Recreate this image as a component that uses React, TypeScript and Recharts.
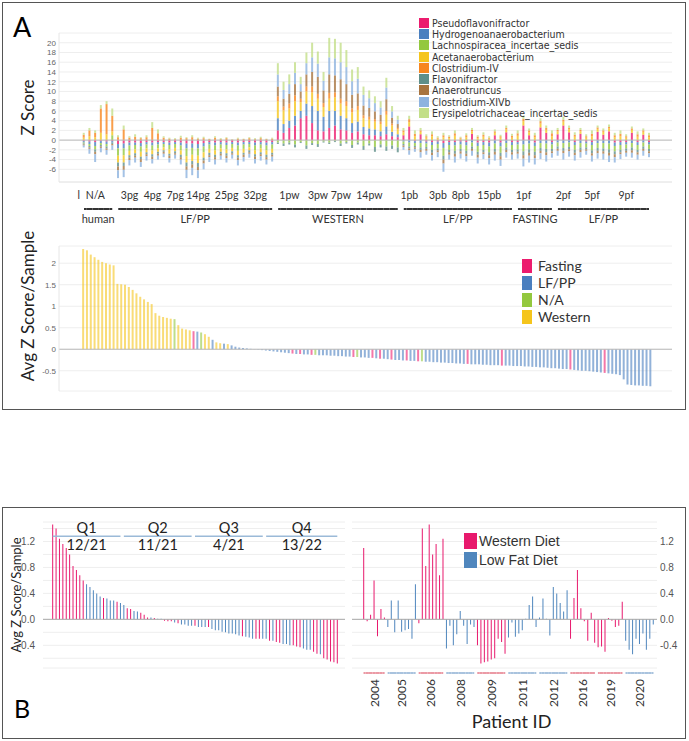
import React from "react";
import { BarChart, Bar, XAxis, YAxis, CartesianGrid, ReferenceLine, Cell } from "recharts";

const LATO = "Lato, 'Open Sans', sans-serif";
const ARIAL = "'Liberation Sans', Arial, sans-serif";
const NARROW = "'Liberation Sans Narrow', 'DejaVu Sans Condensed', 'Liberation Sans', sans-serif";

// ---------- Panel A, top: z score of each genus per sample ----------
const genera = [
  "Pseudoflavonifractor",
  "Hydrogenoanaerobacterium",
  "Lachnospiracea_incertae_sedis",
  "Acetanaerobacterium",
  "Clostridium-IV",
  "Flavonifractor",
  "Anaerotruncus",
  "Clostridium-XIVb",
  "Erysipelotrichaceae_incertae_sedis",
];
const generaColors = ["#ec1c6e", "#4a7fbf", "#93c83e", "#f5c51c", "#f7861e", "#5f8f8a", "#a8743f", "#8db3df", "#c3df88"];

// sample order: human(6) | pg(28) | western(22) | pb(20) | fasting(7) | pf(17)
const pseudoflavonifractor = [
  -0.2, -0.3, -0.4, -0.2, -0.3, -0.2,
  -0.8, -0.7, -0.5, -0.5, -0.6, -0.4, -0.5, -0.4, -0.4, -0.5, -0.4, -0.5, -0.7, -0.7, -0.8, -0.6, -0.4, -0.5, -0.4, -0.5, -0.4, -0.5, -0.4, -0.4, -0.5, -0.4, -0.5, -0.4,
  2.0, 1.5, 2.5, 3.0, 4.5, 5.0, 3.5, 2.0, 1.8, 2.5, 3.0, 2.2, 2.0, 1.5, 1.8, 1.2, 1.0, 1.0, 0.8, 1.2, 0.8, 0.6,
  1.0, 2.8, -0.2, 1.2, -0.3, -0.4, -0.3, -0.6, -0.4, -0.4, -0.3, -0.4, 1.3, -0.5, -0.4, -0.5, 1.0, -0.5, 1.6, -0.4,
  -0.4, 3.0, 1.0, -0.5, 2.6, 1.5, -0.4,
  1.2, 3.0, 1.6, -0.4, 1.3, -0.3, -0.4, 1.7, 1.1, 1.8, -0.5, -0.4, -0.4, 1.5, -0.4, 1.1, -0.4,
];
const hydrogenoanaerobacterium = [
  -0.3, -0.5, -0.8, -0.4, -0.5, -0.3,
  -0.9, -1.0, -0.6, -0.5, -0.7, -0.5, -0.6, -0.5, -0.4, -0.5, -0.4, -0.6, -1.0, -0.9, -0.9, -0.7, -0.5, -0.6, -0.5, -0.5, -0.4, -0.6, -0.5, -0.4, -0.6, -0.5, -0.6, -0.5,
  2.5, 1.8, 1.5, 2.0, 1.5, 2.5, 3.5, 4.0, 3.0, 3.5, 3.0, 2.8, 2.5, 2.0, 2.0, 1.5, 1.4, 1.2, 1.0, 1.6, 0.9, 0.6,
  -0.3, -0.5, -0.4, -0.6, -0.4, -0.6, -0.5, -1.0, -0.6, -0.7, -0.6, -0.7, -0.5, -0.7, -0.6, -0.8, -0.7, -0.8, -0.6, -0.6,
  -0.5, -0.9, -0.7, -0.7, -0.6, -0.7, -0.5,
  -0.5, -0.6, -0.5, -0.6, -0.6, -0.4, -0.6, -0.6, -0.6, -0.7, -0.7, -0.6, -0.5, -0.6, -0.6, -0.5, -0.5,
];
const lachnospiracea = [
  -0.2, -0.4, -0.7, -0.4, -0.5, 1.0,
  -1.5, -1.4, -1.1, -0.9, -1.1, -0.8, -1.0, -0.8, -0.7, -0.9, -0.8, -1.0, -1.6, -1.4, -1.5, -1.2, -0.9, -1.0, -0.8, -0.9, -0.8, -1.1, -0.9, -0.7, -1.0, -0.8, -1.0, -0.9,
  -0.5, -0.7, -0.5, -0.9, -0.4, -1.1, -0.6, -0.8, -0.3, -0.5, -0.2, -0.7, -0.4, -1.0, -0.5, -1.2, -0.7, -1.4, -0.9, -1.3, -1.1, -1.5,
  -0.5, -0.8, -0.6, -0.9, -0.7, -1.0, -0.9, -1.6, -1.0, -1.1, -0.9, -1.1, -0.8, -1.2, -1.0, -1.2, -1.1, -1.3, -0.9, -1.0,
  -1.0, -1.4, -1.2, -1.2, -1.0, -1.1, -0.9,
  -0.8, -1.0, -0.9, -1.0, -0.9, -0.8, -1.1, -1.0, -1.1, -1.2, -1.1, -1.0, -0.8, -0.9, -1.0, -0.8, -0.9,
];
const acetanaerobacterium = [
  0.5, 0.8, 0.6, 1.5, 1.2, 0.8,
  -1.4, -1.5, -0.9, -0.8, -1.0, -0.8, -0.8, -0.7, -0.6, -0.9, -0.7, -0.9, -1.3, -1.3, -1.5, -1.1, -0.8, -0.9, -0.7, -0.8, -0.7, -0.9, -0.8, -0.6, -0.8, -0.8, -0.9, -0.8,
  3.5, 2.8, 2.5, 3.0, 1.8, 2.5, 2.8, 2.5, 2.0, 2.5, 2.8, 2.5, 2.5, 2.2, 2.4, 1.8, 1.8, 1.6, 1.5, 2.4, 1.3, 1.0,
  0.6, 0.9, 0.8, 0.5, 0.5, 0.8, 0.3, 0.6, 0.4, 0.9, 0.3, 0.6, 0.5, 0.4, 0.7, 0.3, 0.5, 0.5, 0.6, 0.5,
  0.9, 0.9, 0.6, 0.6, 0.8, 0.6, 0.8,
  0.6, 0.8, 0.6, 0.7, 0.5, 0.5, 0.8, 0.6, 0.6, 0.6, 0.6, 0.8, 0.5, 0.6, 0.7, 0.6, 0.6,
];
const clostridiumIV = [
  0.6, 1.2, 0.9, 5.0, 6.2, 3.2,
  0.6, 2.2, 0.5, 0.7, 0.4, 0.6, 2.5, 1.4, 0.5, 0.3, 0.2, 0.5, 0.4, 0.6, 0.3, 0.4, 0.2, 0.5, 0.2, 0.4, 0.1, 0.3, 0.2, 0.4, 0.2, 0.4, 0.2, 0.3,
  1.0, 0.8, 1.0, 1.2, 0.7, 1.0, 1.2, 1.0, 0.8, 1.2, 1.0, 1.0, 1.0, 0.8, 0.8, 0.6, 0.6, 0.5, 0.5, 0.8, 0.4, 0.3,
  0.4, 0.6, 0.5, 0.3, 0.3, 0.4, 0.2, 0.4, 0.3, 0.5, 0.2, 0.4, 0.3, 0.3, 0.4, 0.2, 0.3, 0.3, 0.3, 0.4,
  0.5, 0.5, 0.4, 0.4, 0.5, 0.4, 0.6,
  0.3, 0.4, 0.3, 0.4, 0.3, 0.3, 0.5, 0.3, 0.3, 0.3, 0.4, 0.5, 0.3, 0.3, 0.5, 0.3, 0.4,
];
const flavonifractor = [
  -0.2, -0.3, -0.5, -0.3, -0.4, -0.3,
  -0.8, -0.7, -0.5, -0.5, -0.5, -0.4, -0.5, -0.4, -0.3, -0.4, -0.4, -0.5, -0.8, -0.7, -0.8, -0.6, -0.5, -0.5, -0.4, -0.5, -0.4, -0.5, -0.4, -0.4, -0.5, -0.4, -0.5, -0.4,
  -0.3, -0.5, -0.4, -0.6, -0.2, -0.7, -0.4, -0.6, -0.2, -0.3, -0.2, -0.5, -0.3, -0.6, -0.4, -0.8, -0.4, -1.0, -0.6, -0.9, -0.7, -1.0,
  -0.3, -0.4, -0.3, -0.5, -0.4, -0.6, -0.4, -0.8, -0.5, -0.6, -0.5, -0.6, -0.5, -0.6, -0.5, -0.6, -0.6, -0.7, -0.5, -0.5,
  -0.5, -0.8, -0.7, -0.7, -0.6, -0.7, -0.5,
  -0.5, -0.6, -0.5, -0.6, -0.5, -0.4, -0.6, -0.6, -0.6, -0.7, -0.6, -0.5, -0.5, -0.6, -0.5, -0.5, -0.5,
];
const anaerotruncus = [
  -0.2, -0.3, -0.5, -0.3, -0.3, -0.3,
  -0.8, -0.8, -0.5, -0.4, -0.6, -0.4, -0.5, -0.4, -0.4, -0.5, -0.3, -0.5, -0.7, -0.7, -0.7, -0.6, -0.4, -0.5, -0.4, -0.5, -0.3, -0.5, -0.5, -0.3, -0.5, -0.4, -0.5, -0.4,
  2.0, 1.6, 2.0, 2.3, 1.5, 2.5, 3.0, 3.5, 2.6, 3.8, 3.5, 4.0, 3.5, 2.8, 2.6, 2.0, 1.8, 1.6, 1.4, 2.4, 1.2, 0.8,
  -0.3, -0.4, -0.3, -0.5, -0.4, -0.5, -0.4, -0.8, -0.5, -0.6, -0.5, -0.5, -0.4, -0.6, -0.4, -0.6, -0.6, -0.7, -0.5, -0.5,
  -0.4, -0.7, -0.6, -0.6, -0.5, -0.6, -0.4,
  -0.4, -0.5, -0.4, -0.5, -0.5, -0.3, -0.5, -0.5, -0.5, -0.6, -0.6, -0.4, -0.4, -0.5, -0.5, -0.4, -0.4,
];
const clostridiumXIVb = [
  -0.4, -1.0, -1.6, -0.9, -1.0, -0.9,
  -1.6, -1.5, -1.1, -1.0, -1.0, -0.9, -0.9, -0.8, -0.7, -0.9, -0.8, -1.0, -1.7, -1.5, -1.6, -1.2, -1.0, -1.0, -0.8, -0.9, -0.8, -1.1, -0.9, -0.8, -0.9, -0.9, -1.0, -1.0,
  2.5, 1.8, 2.0, 2.3, 1.5, 2.3, 3.0, 2.7, 2.0, 3.5, 3.5, 3.5, 3.5, 2.8, 3.0, 2.2, 2.0, 1.7, 1.5, 2.4, 1.3, 0.9,
  -0.6, -0.9, -0.6, -1.1, -0.8, -1.1, -1.0, -1.7, -1.0, -1.2, -1.0, -1.1, -1.0, -1.2, -1.0, -1.3, -1.2, -1.3, -1.1, -1.0,
  -1.0, -1.6, -1.4, -1.3, -1.2, -1.3, -0.9,
  -1.0, -1.3, -1.1, -1.1, -1.1, -0.8, -1.2, -1.1, -1.2, -1.3, -1.1, -1.0, -0.8, -1.0, -1.0, -1.0, -0.8,
];
const erysipelotrichaceae = [
  0.4, 0.5, 0.5, 0.7, 0.6, 1.5,
  0.4, 0.8, 0.3, 0.5, 0.2, 0.4, 1.2, 0.8, 0.3, 0.2, 0.2, 0.4, 0.2, 0.4, 0.2, 0.3, 0.1, 0.3, 0.2, 0.2, 0.1, 0.2, 0.1, 0.2, 0.2, 0.3, 0.1, 0.2,
  2.3, 1.7, 2.0, 2.2, 1.5, 2.2, 3.0, 2.5, 1.8, 4.0, 4.0, 4.0, 3.5, 2.4, 2.4, 1.7, 1.6, 1.4, 1.3, 2.0, 1.1, 0.8,
  0.5, 0.7, 0.7, 0.5, 0.4, 0.6, 0.3, 0.5, 0.3, 0.6, 0.2, 0.4, 0.4, 0.3, 0.5, 0.3, 0.4, 0.3, 0.5, 0.4,
  0.6, 0.6, 0.4, 0.5, 0.6, 0.5, 0.6,
  0.4, 0.6, 0.5, 0.5, 0.4, 0.4, 0.7, 0.4, 0.4, 0.5, 0.5, 0.7, 0.4, 0.4, 0.6, 0.4, 0.5,
];
const genusSeries = [
  pseudoflavonifractor, hydrogenoanaerobacterium, lachnospiracea, acetanaerobacterium, clostridiumIV,
  flavonifractor, anaerotruncus, clostridiumXIVb, erysipelotrichaceae,
];

const sampleTickAt = [0, 2, 8, 12, 16, 20, 25, 30, 36, 41, 45, 50, 57, 62, 66, 71, 77, 84, 89, 95];
const sampleTickText = ["l", "N/A", "3pg", "4pg", "7pg", "14pg", "25pg", "32pg", "1pw", "3pw", "7pw", "14pw", "1pb", "3pb", "8pb", "15pb", "1pf", "2pf", "5pf", "9pf"];
const dietGroups = ["human", "LF/PP", "WESTERN", "LF/PP", "FASTING", "LF/PP"];
const dietGroupSizes = [6, 28, 22, 20, 7, 17];
const zTicks = [-6, -4, -2, 0, 2, 4, 6, 8, 10, 12, 14, 16, 18, 20];

// ---------- Panel A, bottom: average z score per sample, sorted ----------
const avgZ = [
  2.33, 2.3, 2.2, 2.14, 2.08, 2.03, 2.0, 1.97, 1.95, 1.52,
  1.51, 1.5, 1.45, 1.38, 1.3, 1.22, 1.16, 1.1, 1.05, 0.84,
  0.78, 0.75, 0.73, 0.71, 0.7, 0.56, 0.48, 0.46, 0.44, 0.42,
  0.41, 0.39, 0.35, 0.29, 0.22, 0.16, 0.14, 0.13, 0.12, 0.09,
  0.06, 0.04, 0.03, 0.02, 0.01, -0.005, -0.01, -0.02, -0.03, -0.04,
  -0.05, -0.06, -0.07, -0.08, -0.09, -0.1, -0.11, -0.11, -0.12, -0.12,
  -0.13, -0.13, -0.14, -0.14, -0.14, -0.15, -0.15, -0.16, -0.16, -0.17,
  -0.17, -0.18, -0.18, -0.19, -0.19, -0.2, -0.2, -0.21, -0.22, -0.22,
  -0.23, -0.24, -0.25, -0.25, -0.26, -0.26, -0.27, -0.27, -0.28, -0.28,
  -0.29, -0.29, -0.3, -0.3, -0.31, -0.31, -0.32, -0.32, -0.33, -0.33,
  -0.34, -0.34, -0.35, -0.35, -0.35, -0.36, -0.36, -0.37, -0.37, -0.37,
  -0.38, -0.38, -0.38, -0.39, -0.39, -0.39, -0.4, -0.4, -0.41, -0.41,
  -0.42, -0.42, -0.43, -0.44, -0.44, -0.45, -0.46, -0.46, -0.47, -0.48,
  -0.49, -0.5, -0.5, -0.51, -0.52, -0.53, -0.54, -0.55, -0.56, -0.57,
  -0.58, -0.6, -0.7, -0.82, -0.83, -0.84, -0.84, -0.85, -0.85, -0.86,
];
// W = Western, L = LF/PP, N = N/A, F = Fasting
const avgDietCodes = [
  "WWWWWWWWWW", "WWWWWWWWWW", "WWWWNWWWWF", "LNWWLWWLWL", "LLLLLLLLLL",
  "LLLLLFLFLL", "FNLLLLLLLL", "LFNLLLFLFL", "LFLLLFLLFN", "LLLLLLLLLL",
  "LFLLLLLLLL", "FLLLLLLLLL", "LLLLLLLLFL", "LLLLLLLFLL", "LLLLLLLLLL",
];
const avgTicks = [-0.5, 0, 0.5, 1, 1.5, 2];
const dietLegend = ["Fasting", "LF/PP", "N/A", "Western"];
const dietCodes = ["F", "L", "N", "W"];
const dietColors = ["#ec1c6e", "#4a7fbf", "#93c83e", "#f5c51c"];

// ---------- Panel B: per-sample average z score by patient ----------
const patientIds = ["2004", "2005", "2006", "2008", "2009", "2011", "2012", "2016", "2019", "2020"];
const patientDiet = ["Western", "LowFat", "Western", "LowFat", "Western", "LowFat", "LowFat", "Western", "Western", "LowFat"];
const patientSizes = [7, 9, 8, 9, 9, 9, 9, 8, 8, 9];
const patientZ = [
  1.1, -0.03, 0.07, 0.6, -0.26, 0.16, 0.03,
  -0.12, 0.29, -0.2, 0.29, -0.19, -0.17, -0.15, -0.3, 0.54,
  -0.06, 1.4, 0.82, 1.46, 1.0, 1.16, 0.68, 1.24,
  -0.45, -0.1, -0.4, -0.23, 0.13, -0.1, -0.38, -0.08, -0.12,
  -0.4, -0.68, -0.66, -0.65, -0.62, -0.6, -0.3, -0.35, -0.53,
  -0.28, -0.05, -0.27, -0.22, -0.17, 0.01, 0.22, 0.35, -0.12,
  0.03, 0.32, 0.01, -0.25, 0.5, 0.4, 0.25, 0.12, 0.45,
  -0.3, 0.33, 0.76, 0.17, -0.03, -0.33, 0.1, -0.36,
  -0.43, -0.42, -0.5, 0.02, -0.02, -0.12, -0.1, 0.27,
  -0.33, -0.47, -0.54, -0.3, -0.38, -0.22, -0.47, -0.3, -0.08,
];
const quartileNames = ["Q1", "Q2", "Q3", "Q4"];
const quartileWestern = [12, 11, 4, 13];
const quartileSizes = [21, 21, 21, 22];
const bTicks = [-0.6, -0.4, -0.2, 0, 0.2, 0.4, 0.6, 0.8, 1.0, 1.2, 1.4];
const bDietNames = ["Western Diet", "Low Fat Diet"];
const bDietKeys = ["Western", "LowFat"];
const bDietColors: Record<string, string> = { Western: "#e8196d", LowFat: "#4f86bd" };
const bLineColors: Record<string, string> = { Western: "#eb9aa5", LowFat: "#a9c3de" };

// ---------- tables ----------
const topRows = pseudoflavonifractor.map((_, i) => {
  const row: Record<string, number> = { i };
  genera.forEach((g, k) => (row[g] = genusSeries[k][i]));
  return row;
});
const sampleGroup: number[] = [];
const groupStart: number[] = [];
dietGroupSizes.reduce((s, n, g) => {
  groupStart.push(s);
  for (let k = 0; k < n; k++) sampleGroup.push(g);
  return s + n;
}, 0);

const avgDiet = avgDietCodes.join("").split("");
const avgRows = avgZ.map((v, i) => ({ i, v, d: avgDiet[i] }));

const patientRows: { i: number; v: number; p: number }[] = [];
const patientStart: number[] = [];
patientSizes.reduce((s, n, p) => {
  patientStart.push(s);
  for (let k = 0; k < n; k++) patientRows.push({ i: s + k, v: patientZ[s + k], p });
  return s + n;
}, 0);
const sortedRows = [...patientRows].sort((a, b) => b.v - a.v).map((r, k) => ({ ...r, k }));
const quartileStart: number[] = [];
quartileSizes.reduce((s, n) => (quartileStart.push(s), s + n), 0);

// ---------- ticks / labels ----------
const SampleTick = ({ x, y, payload }: any) => {
  const k = sampleTickAt.indexOf(Number(payload.value));
  if (k < 0) return <g />;
  return (
    <text x={k === 0 ? x - 5 : x} y={y + 17} textAnchor="middle" fontSize={10.5} fontFamily={LATO} fill="#333">
      {sampleTickText[k]}
    </text>
  );
};

const GroupTick = ({ x, y, payload }: any) => {
  const i = Number(payload.value);
  const g = sampleGroup[i];
  const start = groupStart[g];
  const end = start + dietGroupSizes[g] - 1;
  const bw = payload.offset > 0 ? payload.offset * 2 : 5.71;
  const x1 = x - bw / 2 + (i === start ? 3 : 0);
  const x2 = x + bw / 2 - (i === end ? 3 : 0);
  const cx = x + ((start + end) / 2 - i) * bw;
  return (
    <g>
      <line x1={x1} x2={x2} y1={y + 11} y2={y + 11} stroke="#333" strokeWidth={2} />
      {i === start && (
        <text x={cx} y={y + 25} textAnchor="middle" fontSize={11} fontFamily={LATO} fill="#333">
          {dietGroups[g]}
        </text>
      )}
    </g>
  );
};

const PatientTick = ({ x, y, payload }: any) => {
  const i = Number(payload.value);
  const p = patientRows[i].p;
  const start = patientStart[p];
  const end = start + patientSizes[p] - 1;
  const bw = payload.offset > 0 ? payload.offset * 2 : 3.44;
  const x1 = x - bw / 2 + (i === start ? 1.5 : 0);
  const x2 = x + bw / 2 - (i === end ? 1.5 : 0);
  const cx = x + ((start + end) / 2 - i) * bw;
  return (
    <g>
      <line x1={x1} x2={x2} y1={y + 5} y2={y + 5} stroke={bLineColors[patientDiet[p]]} strokeWidth={2} />
      {i === start && (
        <text
          x={cx}
          y={y + 25}
          transform={`rotate(-90 ${cx} ${y + 25})`}
          textAnchor="middle"
          dominantBaseline="central"
          fontSize={12}
          fontFamily={LATO}
          fill="#333"
        >
          {patientIds[p]}
        </text>
      )}
    </g>
  );
};

const VerticalTitle = ({ viewBox, text, dx, cy, size }: any) => {
  const x = viewBox.x + dx;
  const y = cy ?? viewBox.y + viewBox.height / 2;
  return (
    <text
      x={x}
      y={y}
      transform={`rotate(-90 ${x} ${y})`}
      textAnchor="middle"
      dominantBaseline="central"
      fontSize={size}
      fontFamily={LATO}
      fill="#222"
    >
      {text}
    </text>
  );
};

const QuartileLabel = ({ viewBox, q }: any) => {
  const cx = viewBox.x + viewBox.width / 2;
  const y = viewBox.y;
  return (
    <g fontFamily={LATO} fontSize={14.5} fill="#222" textAnchor="middle">
      <text x={cx} y={y - 8.5} dominantBaseline="central">{quartileNames[q]}</text>
      <text x={cx} y={y + 8.5} dominantBaseline="central">{`${quartileWestern[q]}/${quartileSizes[q]}`}</text>
    </g>
  );
};

const smallTick = { fontSize: 8, fill: "#666", fontFamily: ARIAL };
const bTick = { fontSize: 10, fill: "#555", fontFamily: ARIAL };
const box = (top: number, height: number): React.CSSProperties => ({
  position: "absolute",
  left: 2,
  top,
  width: 682,
  height,
  border: "1.5px solid #555",
});

export default function App() {
  return (
    <div style={{ position: "absolute", left: 0, top: 0, width: 689, height: 741, background: "#fff" }}>
      <div style={box(2, 406)} />
      <div style={box(507, 230)} />
      <div style={{ position: "absolute", left: 13, top: 13, fontFamily: LATO, fontSize: 27, lineHeight: 1 }}>A</div>
      <div style={{ position: "absolute", left: 14, top: 696, fontFamily: LATO, fontSize: 25, lineHeight: 1 }}>B</div>

      {/* A top: stacked z scores */}
      <div style={{ position: "absolute", left: 0, top: 0 }}>
        <BarChart
          width={689}
          height={232}
          data={topRows}
          margin={{ top: 33, right: 17, left: 0, bottom: 0 }}
          stackOffset="sign"
          barCategoryGap="30%"
        >
          <CartesianGrid vertical={false} stroke="#eeeeee" />
          <XAxis
            dataKey="i"
            interval={0}
            tickLine={false}
            tickSize={0}
            tickMargin={0}
            axisLine={{ stroke: "#e6e6e6" }}
            height={16}
            padding={{ left: 22, right: 20 }}
            tick={(p: any) => <SampleTick {...p} />}
          />
          <XAxis
            xAxisId="grp"
            dataKey="i"
            interval={0}
            tickLine={false}
            tickSize={0}
            tickMargin={0}
            axisLine={false}
            height={34}
            padding={{ left: 22, right: 20 }}
            tick={(p: any) => <GroupTick {...p} />}
          />
          <YAxis
            width={59}
            domain={[-8.6, 22]}
            ticks={zTicks}
            interval={0}
            tickLine={false}
            tickSize={1}
            tickMargin={2}
            axisLine={{ stroke: "#e6e6e6" }}
            tick={smallTick}
            label={(p: any) => <VerticalTitle {...p} text="Z Score" dx={27} size={17} />}
          />
          <ReferenceLine y={0} stroke="#bbbbbb" />
          {genera.map((g, k) => (
            <Bar key={g} dataKey={g} stackId="z" fill={generaColors[k]} fillOpacity={0.8} isAnimationActive={false} />
          ))}
        </BarChart>
      </div>

      <div style={{ position: "absolute", left: 419, top: 17, fontFamily: NARROW, fontSize: 10.5, color: "#333" }}>
        {genera.map((g, k) => (
          <div key={g} style={{ display: "flex", alignItems: "center", height: 11.3 }}>
            <div style={{ width: 10, height: 10, background: generaColors[k], marginRight: 3 }} />
            <span>{g}</span>
          </div>
        ))}
      </div>

      {/* A bottom: average z score per sample */}
      <div style={{ position: "absolute", left: 0, top: 222 }}>
        <BarChart
          width={689}
          height={174}
          data={avgRows}
          margin={{ top: 24, right: 17, left: 0, bottom: 5 }}
          barCategoryGap="30%"
        >
          <CartesianGrid vertical={false} stroke="#eeeeee" />
          <XAxis dataKey="i" hide padding={{ left: 22, right: 20 }} />
          <YAxis
            width={59}
            domain={[-0.97, 2.4]}
            ticks={avgTicks}
            interval={0}
            tickLine={false}
            tickSize={1}
            tickMargin={2}
            axisLine={{ stroke: "#e6e6e6" }}
            tick={smallTick}
            label={(p: any) => <VerticalTitle {...p} text="Avg Z Score/Sample" dx={27} cy={306 - 222} size={17} />}
          />
          <ReferenceLine y={0} stroke="#bbbbbb" />
          <Bar dataKey="v" isAnimationActive={false} fillOpacity={0.6}>
            {avgRows.map((r) => (
              <Cell key={r.i} fill={dietColors[dietCodes.indexOf(r.d)]} />
            ))}
          </Bar>
        </BarChart>
      </div>

      <div style={{ position: "absolute", left: 522, top: 257, fontFamily: LATO, fontSize: 14, color: "#333" }}>
        {dietLegend.map((d, k) => (
          <div key={d} style={{ display: "flex", alignItems: "center", height: 17 }}>
            <div style={{ width: 10, height: 14, background: dietColors[k], marginRight: 6 }} />
            <span>{d}</span>
          </div>
        ))}
      </div>

      {/* B left: sorted */}
      <div style={{ position: "absolute", left: 0, top: 508 }}>
        <BarChart
          width={350}
          height={162}
          data={sortedRows}
          margin={{ top: 14, right: 5, left: 0, bottom: 2 }}
          barCategoryGap="35%"
        >
          <CartesianGrid vertical={false} stroke="#eeeeee" />
          <XAxis dataKey="k" hide padding={{ left: 8, right: 6 }} />
          <YAxis
            width={43}
            domain={[-0.75, 1.5]}
            ticks={bTicks}
            interval={0}
            tickLine={false}
            axisLine={false}
            tick={bTick}
            tickFormatter={(v: number) => (Math.abs(Math.round(v * 10)) % 4 === 0 ? v.toFixed(1) : "")}
            label={(p: any) => <VerticalTitle {...p} text="Avg Z Score/Sample" dx={16} size={13} />}
          />
          <ReferenceLine y={0} stroke="#aaaaaa" />
          <Bar dataKey="v" isAnimationActive={false}>
            {sortedRows.map((r) => (
              <Cell key={r.k} fill={bDietColors[patientDiet[r.p]]} />
            ))}
          </Bar>
          {quartileNames.map((q, k) => (
            <ReferenceLine
              key={q}
              segment={[
                { x: quartileStart[k], y: 1.28 },
                { x: quartileStart[k] + quartileSizes[k] - 1, y: 1.28 },
              ]}
              stroke="#9bbad8"
              strokeWidth={1.5}
              label={(p: any) => <QuartileLabel {...p} q={k} />}
            />
          ))}
        </BarChart>
      </div>

      {/* B right: by patient */}
      <div style={{ position: "absolute", left: 345, top: 508 }}>
        <BarChart
          width={344}
          height={230}
          data={patientRows}
          margin={{ top: 14, right: 0, left: 7, bottom: 10 }}
          barCategoryGap="35%"
        >
          <CartesianGrid vertical={false} stroke="#eeeeee" />
          <XAxis
            dataKey="i"
            interval={0}
            tickLine={false}
            tickSize={0}
            tickMargin={0}
            axisLine={false}
            height={60}
            padding={{ left: 10, right: 2 }}
            tick={(p: any) => <PatientTick {...p} />}
            label={(p: any) => {
              const vb = p.viewBox;
              return (
                <text
                  x={vb.x + vb.width / 2 + 7}
                  y={vb.y + 53}
                  textAnchor="middle"
                  dominantBaseline="central"
                  fontSize={18}
                  fontFamily={LATO}
                  fill="#222"
                >
                  Patient ID
                </text>
              );
            }}
          />
          <YAxis
            orientation="right"
            width={32}
            domain={[-0.75, 1.5]}
            ticks={bTicks}
            interval={0}
            tickLine={false}
            tickSize={1}
            tickMargin={2}
            axisLine={false}
            tick={{ ...bTick, textAnchor: "start" }}
            tickFormatter={(v: number) => (Math.abs(Math.round(v * 10)) % 4 === 0 ? v.toFixed(1) : "")}
          />
          <ReferenceLine y={0} stroke="#aaaaaa" />
          <Bar dataKey="v" isAnimationActive={false}>
            {patientRows.map((r) => (
              <Cell key={r.i} fill={bDietColors[patientDiet[r.p]]} />
            ))}
          </Bar>
        </BarChart>
      </div>

      <div style={{ position: "absolute", left: 464, top: 531, fontFamily: ARIAL, fontSize: 14, color: "#333" }}>
        {bDietNames.map((d, k) => (
          <div key={d} style={{ display: "flex", alignItems: "center", height: 19 }}>
            <div style={{ width: 13, height: 16, background: bDietColors[bDietKeys[k]], marginRight: 2 }} />
            <span>{d}</span>
          </div>
        ))}
      </div>
    </div>
  );
}
